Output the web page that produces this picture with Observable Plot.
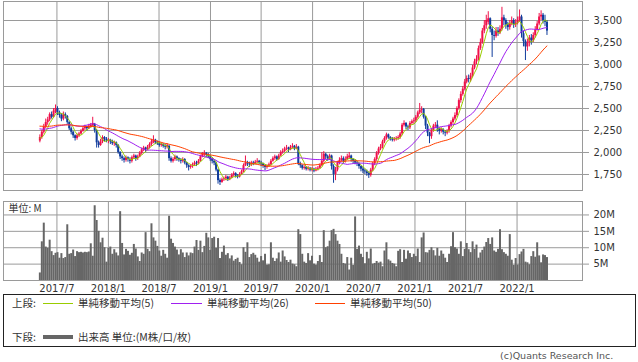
<!DOCTYPE html>
<html><head><meta charset="utf-8">
<script src="https://cdn.jsdelivr.net/npm/d3@7"></script>
<script src="https://cdn.jsdelivr.net/npm/@observablehq/plot@0.6"></script>
<style>
body{margin:0;background:#fff;}
#wrap{position:relative;width:638px;height:362px;overflow:hidden;background:#fff;font-family:"Noto Sans CJK JP","DejaVu Sans",sans-serif;color:#333;}
#wrap svg{position:absolute;left:0;}
.lg{position:absolute;font-size:10.5px;line-height:12px;white-space:nowrap;color:#333;}
.ln{position:absolute;height:0;}
</style></head><body>
<div id="wrap"></div>
<script>
// ---- data (weekly, starting week of 2017-05-01) ----
const startDate = "2017-05-01";
const close = [2170,2230,2290,2340,2370,2430,2400,2470,2500,2450,
2420,2380,2430,2410,2340,2270,2230,2190,2160,2190,
2210,2240,2270,2290,2270,2300,2310,2330,2250,2110,
2080,2120,2170,2150,2130,2140,2120,2100,2110,2080,
2000,1950,1930,1910,1940,1920,1900,1940,1960,1930,
1950,1990,2030,2050,2030,2060,2090,2120,2140,2110,
2100,2080,2090,2070,2060,2080,1930,1900,1920,1950,
1930,1910,1900,1920,1880,1850,1830,1840,1860,1880,
1870,1900,1950,1980,1990,1970,1950,1920,1900,1880,
1800,1680,1660,1690,1700,1720,1690,1710,1740,1760,
1730,1720,1750,1780,1850,1880,1870,1860,1880,1870,
1890,1900,1880,1870,1850,1830,1840,1860,1900,1930,
1950,1920,1960,2000,2010,2040,2050,2030,2060,2070,
2040,2060,1870,1850,1820,1830,1810,1820,1800,1810,
1790,1810,1820,1850,1900,1980,1950,1930,1960,1840,
1750,1800,1880,1910,1930,1900,1920,1950,1960,1920,
1900,1880,1870,1840,1810,1790,1780,1760,1740,1800,
1870,1920,1990,2040,2060,2120,2160,2200,2170,2150,
2140,2150,2160,2170,2210,2310,2330,2290,2280,2330,
2350,2360,2400,2450,2480,2490,2400,2300,2220,2180,
2250,2300,2310,2270,2240,2260,2230,2220,2240,2300,
2340,2380,2420,2500,2590,2660,2720,2800,2840,2830,
2870,2960,3030,3060,3180,3250,3380,3440,3500,3520,
3400,3330,3320,3380,3360,3400,3530,3500,3450,3420,
3460,3500,3450,3470,3500,3540,3350,3260,3200,3250,
3300,3270,3330,3390,3460,3540,3560,3500,3480,3380];
const open = [2130,2170,2230,2290,2340,2370,2430,2400,2460,2500,
2450,2420,2380,2430,2410,2340,2270,2230,2190,2160,
2190,2210,2240,2270,2290,2270,2290,2300,2320,2250,
2110,2080,2120,2170,2150,2130,2140,2120,2100,2110,
2080,2000,1950,1930,1910,1940,1920,1900,1940,1960,
1930,1950,1990,2030,2050,2030,2060,2090,2110,2140,
2110,2100,2080,2090,2070,2060,2070,1930,1900,1920,
1950,1930,1910,1900,1920,1880,1850,1830,1840,1860,
1880,1870,1900,1950,1970,1990,1970,1950,1920,1900,
1880,1800,1680,1660,1690,1700,1720,1690,1710,1740,
1760,1730,1720,1750,1780,1850,1880,1870,1860,1880,
1870,1890,1900,1880,1870,1850,1830,1840,1860,1900,
1930,1950,1920,1960,2000,2010,2040,2050,2030,2060,
2070,2040,2060,1870,1850,1820,1830,1810,1820,1800,
1810,1790,1810,1820,1850,1900,1980,1950,1930,1960,
1840,1750,1800,1880,1910,1930,1900,1920,1940,1960,
1920,1900,1880,1870,1840,1810,1790,1780,1760,1740,
1800,1870,1920,1990,2040,2060,2120,2160,2200,2170,
2150,2140,2150,2160,2170,2210,2310,2330,2290,2280,
2330,2350,2360,2400,2450,2480,2490,2400,2300,2220,
2180,2250,2300,2310,2270,2240,2260,2230,2220,2240,
2300,2340,2380,2420,2500,2590,2660,2720,2800,2840,
2830,2870,2960,3030,3060,3180,3250,3380,3440,3480,
3520,3400,3330,3320,3380,3360,3400,3530,3500,3450,
3420,3460,3500,3450,3470,3500,3540,3350,3260,3200,
3250,3300,3270,3330,3390,3460,3540,3560,3500,3480];
const high = [2200,2250,2320,2380,2400,2450,2460,2500,2540,2520,
2470,2440,2460,2450,2420,2350,2290,2240,2200,2210,
2230,2260,2290,2310,2300,2320,2330,2400,2330,2260,
2130,2150,2190,2180,2170,2160,2150,2140,2130,2120,
2090,2010,1970,1950,1960,1950,1940,1960,1980,1970,
1970,2010,2050,2070,2060,2080,2110,2150,2190,2150,
2130,2120,2110,2100,2090,2100,2080,1950,1940,1970,
1960,1940,1930,1940,1930,1890,1860,1860,1880,1900,
1900,1920,1970,2000,2020,2000,1990,1960,1940,1910,
1890,1810,1700,1710,1720,1740,1730,1730,1760,1780,
1770,1750,1770,1800,1870,1960,1900,1890,1900,1900,
1910,1930,1910,1900,1880,1860,1860,1880,1920,1950,
1970,1960,1980,2020,2040,2060,2080,2060,2080,2100,
2080,2090,2070,1890,1860,1850,1840,1840,1830,1830,
1820,1830,1840,1870,2000,2010,1990,1970,1980,1970,
1860,1830,1900,1940,1960,1950,1950,1980,2000,1970,
1930,1920,1900,1880,1850,1830,1810,1800,1780,1820,
1890,1940,2010,2060,2090,2140,2180,2220,2210,2180,
2170,2170,2180,2190,2230,2330,2360,2340,2310,2350,
2370,2390,2420,2470,2557,2520,2500,2410,2320,2230,
2270,2320,2340,2360,2280,2280,2270,2250,2260,2320,
2360,2400,2450,2520,2610,2690,2750,2830,2870,2880,
2900,2990,3060,3100,3210,3290,3410,3500,3560,3600,
3530,3420,3380,3420,3420,3440,3650,3560,3520,3480,
3500,3540,3520,3510,3540,3620,3560,3380,3280,3290,
3330,3340,3360,3430,3490,3580,3610,3580,3560,3500];
const low = [2110,2150,2210,2270,2310,2350,2380,2390,2440,2420,
2390,2350,2360,2380,2320,2250,2200,2160,2130,2140,
2170,2200,2230,2250,2240,2260,2280,2290,2220,2050,
2050,2070,2100,2120,2110,2100,2090,2080,2070,2050,
1980,1920,1900,1880,1890,1890,1870,1880,1920,1900,
1910,1940,1970,2010,2000,2020,2040,2070,2100,2090,
2080,2060,2060,2050,2030,2040,1900,1880,1880,1900,
1900,1890,1870,1880,1860,1820,1790,1810,1820,1840,
1840,1860,1890,1940,1950,1940,1930,1900,1870,1850,
1780,1640,1625,1650,1670,1680,1670,1680,1700,1720,
1710,1700,1710,1740,1770,1840,1840,1830,1840,1850,
1860,1870,1860,1840,1820,1795,1810,1830,1850,1890,
1910,1900,1910,1950,1980,2000,2020,2000,2020,2040,
2020,2030,1850,1820,1800,1800,1790,1790,1780,1780,
1770,1780,1790,1810,1840,1880,1920,1900,1910,1800,
1650,1680,1780,1860,1890,1870,1880,1910,1920,1890,
1870,1860,1840,1810,1780,1760,1750,1730,1705,1720,
1780,1850,1900,1970,2020,2040,2100,2140,2150,2130,
2120,2120,2130,2140,2150,2190,2290,2260,2250,2260,
2310,2320,2340,2380,2430,2440,2380,2260,2180,2100,
2150,2230,2270,2230,2200,2220,2200,2180,2200,2220,
2280,2320,2360,2400,2480,2560,2640,2700,2780,2790,
2800,2850,2940,3000,3040,3160,3230,3350,3400,3450,
3360,3080,3270,3300,3320,3340,3380,3440,3400,3380,
3390,3440,3410,3420,3450,3480,3300,3200,3045,3150,
3200,3220,3250,3300,3380,3440,3500,3460,3430,3330];
const volume = [2.3,11.8,17.5,10.2,9.8,12.3,8.8,7.6,8.3,8.5,
6.8,8.2,6.7,7.0,17.0,8.0,8.2,9.3,7.3,8.8,
8.5,8.6,8.4,8.6,8.5,8.7,11.2,7.4,22.8,18.3,
15.0,11.5,12.9,10.0,5.6,9.8,10.2,8.0,9.4,8.4,
7.5,21.0,11.3,7.8,9.5,8.9,7.7,8.3,11.0,9.6,
7.2,5.8,8.4,8.0,14.6,9.5,8.8,17.3,13.0,12.0,
10.4,9.0,7.4,9.2,8.0,6.8,19.6,12.6,11.3,10.2,
9.3,7.8,9.4,8.4,7.0,8.4,7.5,8.4,8.2,10.2,
12.2,9.2,12.0,8.5,10.4,14.4,13.0,9.2,12.8,13.2,
9.8,12.8,6.7,8.6,10.5,7.7,8.2,6.6,7.5,5.9,
6.4,6.8,5.5,4.8,10.0,8.6,11.5,7.0,7.9,8.3,
7.7,6.8,5.6,7.3,6.0,8.0,4.7,4.8,11.5,6.8,
5.8,6.6,8.4,5.6,9.0,7.2,6.1,5.5,6.2,5.0,
4.8,4.2,15.5,14.0,8.0,5.6,5.2,8.2,6.0,7.4,
5.0,4.7,5.8,7.6,5.5,15.2,10.0,10.3,12.0,15.2,
15.6,14.0,12.0,11.0,8.0,5.2,5.0,7.0,3.2,6.8,
4.6,19.4,9.5,10.5,8.0,7.0,5.1,8.6,6.6,9.6,
5.0,5.2,5.8,5.3,5.6,4.2,9.0,11.5,6.3,5.9,
5.2,5.0,4.2,8.9,9.4,5.5,9.2,6.5,9.0,8.2,
7.0,8.0,7.3,9.6,5.5,13.0,14.5,8.5,8.4,9.2,
10.0,9.1,7.5,9.8,7.4,9.0,8.0,6.8,5.5,8.0,
10.3,14.6,10.0,9.6,8.0,11.8,7.3,9.5,11.3,9.4,
8.5,11.8,9.5,10.8,6.8,8.4,9.2,10.2,11.6,12.8,
11.0,13.0,9.0,8.6,9.5,15.5,9.4,8.5,8.0,7.4,
14.0,6.2,4.6,6.7,4.7,7.9,8.7,9.5,5.6,5.4,
4.8,7.3,8.8,7.1,11.5,7.5,5.4,7.8,7.6,7.0];
// closes of the weeks before the first drawn candle (only feed the moving averages)
const preCloses = [2280,2310,2350,2380,2360,2330,2300,2290,2320,2350,2370,2390,2360,2340,2310,2300,2320,2350,2330,2310,2340,2360,2330,2310,
2300,2320,2290,2270,2300,2330,2310,2280,2260,2290,2320,2340,2310,2290,2270,2300,2320,2290,2270,2250,2240,
2200,2160,2140,2150];
const priceTicks = [1750,2000,2250,2500,2750,3000,3250,3500];
const volTicks = [5,10,15,20];
const xTickLabels = ["2017/7","2018/1","2018/7","2019/1","2019/7","2020/1","2020/7","2021/1","2021/7","2022/1"];
const maPeriods = [5,26,50];
const maColors = ["#99cc00","#a020f0","#ff4000"];
const legendLabels = ["単純移動平均(5)","単純移動平均(26)","単純移動平均(50)"];

// ---- build ----
const start = new Date(startDate + "T00:00:00Z");
const dates = close.map((_, i) => d3.utcDay.offset(start, 7 * i));
const candles = close.map((c, i) => ({date: dates[i], open: open[i], high: high[i], low: low[i], close: c, volume: volume[i]}));
const tickDates = xTickLabels.map(s => { const [y, m] = s.split("/").map(Number); return new Date(Date.UTC(y, m - 1, 1)); });
const fmtX = d => `${d.getUTCFullYear()}/${d.getUTCMonth() + 1}`;
const xDomain = [new Date("2016-12-22T00:00:00Z"), new Date("2022-08-23T00:00:00Z")];
const allCloses = preCloses.concat(close);
function sma(n) {
  return close.map((_, i) => {
    const j = i + preCloses.length;
    return {date: dates[i], value: d3.mean(allCloses.slice(Math.max(0, j - n + 1), j + 1))};
  });
}
const RED = "#f0104a", BLUE = "#0f3c9c", GRID = "#9a9a9a";
const up = candles.filter(d => d.close >= d.open);
const down = candles.filter(d => d.close < d.open);

const common = {width: 638, marginLeft: 3, marginRight: 56,
  style: {fontFamily: "DejaVu Sans", fontSize: "10px", color: "#333", background: "transparent", overflow: "visible"}};

const pricePlot = Plot.plot({
  ...common, height: 191, marginTop: 1, marginBottom: 1,
  x: {type: "utc", domain: xDomain, axis: null},
  y: {domain: [1568, 3716], axis: null},
  marks: [
    Plot.ruleY(priceTicks, {stroke: GRID, strokeWidth: 1}),
    Plot.ruleX(tickDates, {stroke: GRID, strokeWidth: 1}),
    Plot.frame({stroke: GRID, strokeWidth: 1}),
    Plot.ruleX(up, {x: "date", y1: "low", y2: "high", stroke: RED, strokeWidth: 1}),
    Plot.ruleX(down, {x: "date", y1: "low", y2: "high", stroke: BLUE, strokeWidth: 1}),
    Plot.ruleX(up, {x: "date", y1: "open", y2: "close", stroke: RED, strokeWidth: 2}),
    Plot.ruleX(down, {x: "date", y1: "open", y2: "close", stroke: BLUE, strokeWidth: 2}),
    ...maPeriods.map((n, k) => Plot.line(sma(n), {x: "date", y: "value", stroke: maColors[k], strokeWidth: 1})),
    Plot.axisY({anchor: "right", ticks: priceTicks, tickFormat: d3.format(","), tickSize: 6, tickPadding: 5, stroke: GRID, label: null})
  ]
});
pricePlot.style.top = "0px";

const volPlot = Plot.plot({
  ...common, height: 94, marginTop: 1, marginBottom: 14,
  x: {type: "utc", domain: xDomain, label: null},
  y: {domain: [0, 24.1], label: null},
  marks: [
    Plot.ruleY(volTicks, {stroke: GRID, strokeWidth: 1}),
    Plot.ruleX(tickDates, {stroke: GRID, strokeWidth: 1}),
    Plot.frame({stroke: GRID, strokeWidth: 1}),
    Plot.ruleX(candles, {x: "date", y1: 0, y2: "volume", stroke: "#666", strokeWidth: 2}),
    Plot.text(["単位: M"], {frameAnchor: "top-left", dx: 5, dy: 3, textAnchor: "start", lineAnchor: "top", fontFamily: "Noto Sans CJK JP", fontSize: 10, fill: "#333"}),
    Plot.axisY({anchor: "right", ticks: volTicks, tickFormat: d => d + "M", tickSize: 6, tickPadding: 5, stroke: GRID, label: null}),
    Plot.axisX({ticks: tickDates, tickFormat: fmtX, tickSize: 0, tickPadding: 4, label: null})
  ]
});
volPlot.style.top = "200px";

const wrap = document.getElementById("wrap");
wrap.appendChild(pricePlot);
wrap.appendChild(volPlot);

// legend box
function el(cls, css, text) { const e = document.createElement("div"); e.className = cls; e.style.cssText = css; if (text) e.textContent = text; wrap.appendChild(e); return e; }
el("", "position:absolute;left:3px;top:294px;width:633px;height:53px;border:1px solid #222;box-sizing:border-box;background:#fff;");
el("lg", "left:12px;top:297px;", "上段:");
const lineX = [[43, 73, 78], [171, 202, 207], [315, 345, 350]];
lineX.forEach(([a, b, t], k) => {
  el("ln", `left:${a}px;top:303px;width:${b - a}px;border-top:1px solid ${maColors[k]};`);
  el("lg", `left:${t}px;top:297px;`, legendLabels[k]);
});
el("lg", "left:12px;top:331px;", "下段:");
el("ln", "left:43px;top:335px;width:30px;border-top:4px solid #666;");
el("lg", "left:78px;top:331px;", "出来高 単位:(M株/口/枚)");
el("lg", "left:500px;top:350px;font-family:'DejaVu Sans';font-size:9.5px;color:#555;", "(c)Quants Research Inc.");
</script>
</body></html>
